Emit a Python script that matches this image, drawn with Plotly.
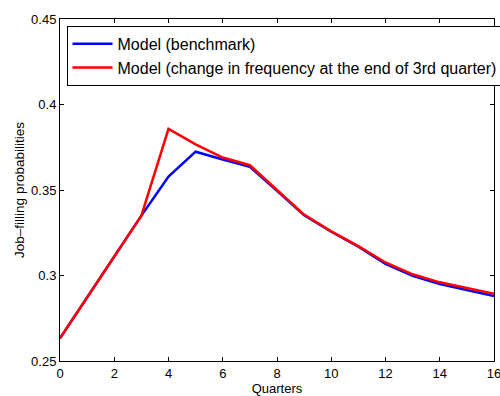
import plotly.graph_objects as go

quarters = list(range(0, 17))
benchmark = [0.2633, 0.287, 0.311, 0.335, 0.3578, 0.3724, 0.3678, 0.3636, 0.3495, 0.3352,
             0.3256, 0.3168, 0.3068, 0.2998, 0.2950, 0.2915, 0.2880]
change = [0.2633, 0.287, 0.311, 0.335, 0.3857, 0.3767, 0.3690, 0.3645, 0.3500, 0.3356,
          0.3258, 0.3172, 0.3076, 0.3007, 0.2960, 0.2926, 0.2893]
names = ["Model (benchmark)", "Model (change in frequency at the end of 3rd quarter)"]
x_ticks = [0, 2, 4, 6, 8, 10, 12, 14, 16]
y_ticks = [0.25, 0.3, 0.35, 0.4, 0.45]
y_tick_labels = ["0.25", "0.3", "0.35", "0.4", "0.45"]

FONT = "Liberation Sans, Arial"

fig = go.Figure()
fig.add_trace(go.Scatter(x=quarters, y=benchmark, mode="lines", name=names[0],
                         line=dict(color="#0000ff", width=2.5)))
fig.add_trace(go.Scatter(x=quarters, y=change, mode="lines", name=names[1],
                         line=dict(color="#ff0000", width=2.5)))

axis_common = dict(showgrid=False, zeroline=False, showline=True, linecolor="black",
                   linewidth=1, mirror="ticks", ticks="inside", ticklen=4,
                   tickcolor="black", ticklabeloverflow="allow",
                   tickfont=dict(family=FONT, size=13, color="black"))

fig.update_layout(
    width=500, height=396,
    margin=dict(l=59.5, r=5.5, t=19, b=35, autoexpand=False),
    paper_bgcolor="white", plot_bgcolor="white",
    font=dict(family=FONT, color="black"),
    xaxis=dict(range=[0, 16], tickvals=x_ticks,
               title=dict(text="Quarters", font=dict(size=13), standoff=0), **axis_common),
    yaxis=dict(range=[0.25, 0.45], tickvals=y_ticks, ticktext=y_tick_labels,
               title=dict(text="Job–filling probabilities", font=dict(size=13.5), standoff=3), **axis_common),
    legend=dict(x=0.015, y=0.98, xanchor="left", yanchor="top",
                bgcolor="white", bordercolor="black", borderwidth=1,
                font=dict(size=16, family=FONT),
                tracegroupgap=0, itemwidth=40),
    showlegend=True,
)

fig.write_html("out.html")
